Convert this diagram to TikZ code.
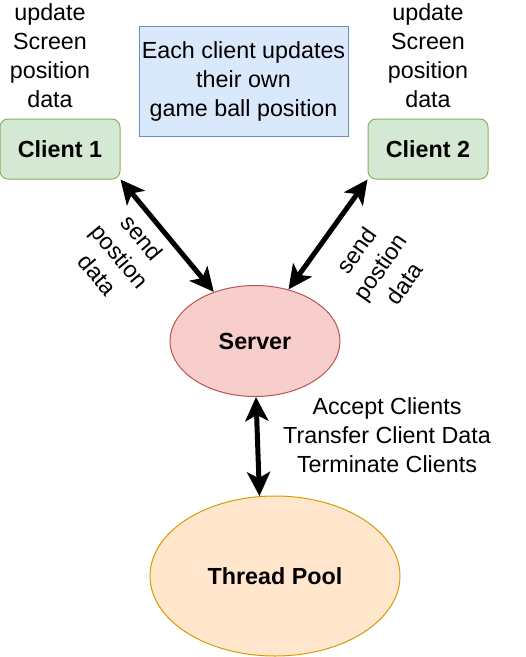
\documentclass[tikz,border=0pt]{standalone}
\usepackage{fontspec}
\setmainfont{Liberation Sans}
\usetikzlibrary{shapes.geometric,arrows.meta}
\definecolor{gfill}{HTML}{D5E8D4}
\definecolor{gline}{HTML}{82B366}
\definecolor{bfill}{HTML}{DAE8FC}
\definecolor{bline}{HTML}{6C8EBF}
\definecolor{rfill}{HTML}{F8CECC}
\definecolor{rline}{HTML}{B85450}
\definecolor{ofill}{HTML}{FFE6CC}
\definecolor{oline}{HTML}{D79B00}
\tikzset{
  txt/.style={font=\fontsize{23.3}{29}\selectfont, align=center, inner sep=0pt},
  clientbox/.style={draw=gline, fill=gfill, rounded corners=8pt, line width=1pt,
    minimum width=120pt, minimum height=60pt, inner sep=0pt,
    font=\fontsize{23.3}{29}\selectfont\bfseries},
  notebox/.style={draw=bline, fill=bfill, line width=1pt,
    minimum width=209pt, minimum height=110pt, inner sep=0pt,
    font=\fontsize{23.3}{29}\selectfont, align=center},
  oval/.style={ellipse, line width=1pt, inner sep=0pt,
    font=\fontsize{23.3}{29}\selectfont\bfseries},
  link/.style={line width=5pt, {Stealth[length=24pt,width=23pt,inset=6pt]}-{Stealth[length=24pt,width=23pt,inset=6pt]}}
}
\begin{document}
\begin{tikzpicture}[x=1pt,y=-1pt]
\useasboundingbox (0,0) rectangle (526,657);
\node[clientbox] (c1) at (60,149) {Client 1};
\node[clientbox] (c2) at (428,149) {Client 2};
\node[notebox] (note) at (243.5,81) {Each client updates\\their own\\game ball position};
\node[oval, draw=rline, fill=rfill, minimum width=170pt, minimum height=111pt] (server) at (255,341) {Server};
\node[oval, draw=oline, fill=ofill, minimum width=250pt, minimum height=160pt] (pool) at (275,576) {Thread Pool};
\node[txt] (u1) at (50,56) {update\\Screen\\position\\data};
\node[txt] (u2) at (428,56) {update\\Screen\\position\\data};
\node[txt, rotate=-50] (s1) at (120,256) {send\\postion\\data};
\node[txt, rotate=55] (s2) at (380,267) {send\\postion\\data};
\node[txt] (acc) at (387,435) {Accept Clients\\Transfer Client Data\\Terminate Clients};
\draw[link] (c1.south east) -- (server.130);
\draw[link] (c2.south west) -- (server.57);
\draw[link] (server.-89) -- (pool.101);
\end{tikzpicture}
\end{document}
